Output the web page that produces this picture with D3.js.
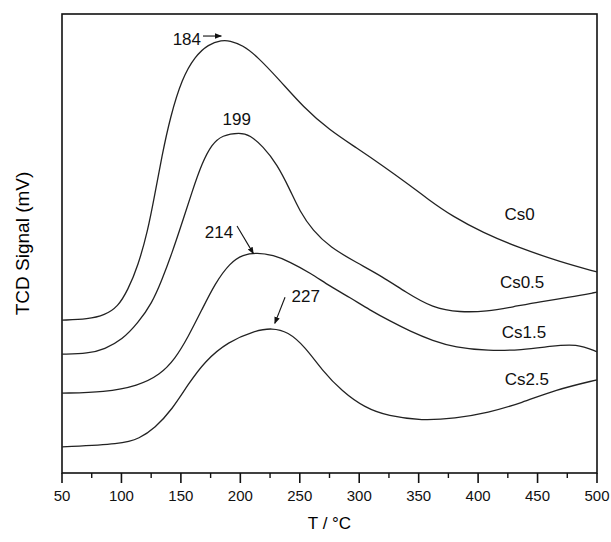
<!DOCTYPE html>
<html lang="en">
<head>
  <meta charset="UTF-8"/>
  <title>TCD Signal vs temperature</title>
  <script src="https://d3js.org/d3.v7.min.js"></script>
  <style>
    body { margin: 0; background: #fff; }
    svg { display: block; font-family: "Liberation Sans", Arial, sans-serif; }
    .curve { fill: none; stroke: #222; stroke-width: 1.3px; }
    .tick-label { font-size: 15px; fill: #111; text-anchor: middle; }
    .note { font-size: 17px; fill: #111; }
  </style>
</head>
<body>
<svg id="chart" width="611" height="542"></svg>
<script>
// temperature (°C) and signal (arbitrary, 0-100)
const tempCs0   = [50, 72, 86, 97, 105.5, 114, 122, 128, 134, 141, 151, 162, 173, 184.5, 191, 202, 214, 233, 253, 275, 298, 320, 343, 357, 379, 404, 433, 469, 500];
const signalCs0 = [33.3, 33.5, 34.4, 36.2, 39.9, 45.2, 52.6, 60.6, 69.0, 77.5, 86.0, 90.8, 93.4, 94.3, 94.2, 93.2, 90.8, 85.6, 79.7, 74.7, 70.8, 66.9, 62.6, 59.8, 55.8, 52.4, 49.2, 46.0, 43.8];

const tempCs05   = [50, 72, 86, 100.5, 114, 125.7, 134, 142.5, 151, 159.3, 167.7, 176, 184.6, 199.7, 208, 219, 230.8, 241.8, 250, 261, 275.4, 298, 320, 338.5, 362, 384.7, 407.5, 429.3, 452, 477, 500];
const signalCs05 = [25.9, 26.0, 27.0, 29.0, 32.7, 37.0, 42.0, 47.9, 54.5, 61.2, 67.5, 71.6, 73.6, 74.2, 73.6, 71.2, 67.3, 61.7, 57.0, 52.8, 49.2, 45.8, 42.7, 39.5, 35.9, 35.0, 35.2, 36.2, 37.3, 38.3, 39.4];

const tempCs15   = [50, 86, 114, 132.4, 145, 156, 167.7, 178.7, 191.3, 202.2, 214, 227.5, 241.8, 258.6, 275.4, 292.3, 309, 326, 342.7, 362, 380.5, 408.3, 437, 460.4, 483, 500];
const signalCs15 = [17.4, 17.6, 19.0, 21.4, 24.8, 29.6, 35.6, 41.3, 45.8, 47.6, 48.0, 47.5, 46.0, 43.6, 40.7, 38.2, 35.5, 33.1, 30.9, 28.8, 27.4, 26.6, 26.8, 27.6, 28.2, 26.4];

const tempCs25   = [50, 100.5, 115, 128.2, 142.5, 156, 170.3, 189.6, 212.3, 226.6, 240, 254.4, 268.7, 285.5, 304.8, 324.2, 352.8, 380.5, 408.3, 437, 464.6, 500];
const signalCs25 = [5.7, 6.3, 7.5, 9.8, 13.8, 19.3, 24.4, 28.6, 31.0, 31.6, 30.8, 27.5, 22.4, 17.8, 14.2, 12.4, 11.4, 11.9, 13.1, 15.3, 18.1, 20.3];

const seriesNames = ['Cs0', 'Cs0.5', 'Cs1.5', 'Cs2.5'];
const seriesTemps = [tempCs0, tempCs05, tempCs15, tempCs25];
const seriesSignals = [signalCs0, signalCs05, signalCs15, signalCs25];

const xTicks = [50, 100, 150, 200, 250, 300, 350, 400, 450, 500];

// peak notes: text anchor and arrow (data units)
const peakNotes = [
  { text: '184', at: [155, 93.2], arrow: [[168.6, 95.2], [184, 95.2]] },
  { text: '199', at: [197, 75.8], arrow: null },
  { text: '214', at: [182, 51.2], arrow: [[197.2, 53.8], [211, 47.8]] },
  { text: '227', at: [255, 37.3], arrow: [[237.6, 38.3], [229, 32.6]] }
];
const nameSpots = [[435, 55.1], [437, 40.3], [438.6, 29.4], [441, 19.2]];

const svg = d3.select('#chart');
const mLeft = 62, mRight = 597, mTop = 14, mBottom = 473;

const x = d3.scaleLinear().domain([50, 500]).range([mLeft, mRight]);
const y = d3.scaleLinear().domain([0, 100]).range([mBottom, mTop]);

// arrow head
svg.append('defs').append('marker')
  .attr('id', 'head').attr('viewBox', '0 0 10 10')
  .attr('refX', 9).attr('refY', 5)
  .attr('markerWidth', 7).attr('markerHeight', 7)
  .attr('markerUnits', 'userSpaceOnUse')
  .attr('orient', 'auto')
  .append('path').attr('d', 'M0,1 L10,5 L0,9 Z').attr('fill', '#111');

// frame
svg.append('rect')
  .attr('x', mLeft).attr('y', mTop)
  .attr('width', mRight - mLeft).attr('height', mBottom - mTop)
  .attr('fill', 'none').attr('stroke', '#111').attr('stroke-width', 1.6);

// bottom axis: majors every 50, minors in between
const xAxis = svg.append('g').attr('transform', `translate(0,${mBottom})`);
const minors = d3.range(75, 500, 50);
xAxis.selectAll('line.minor').data(minors).enter().append('line')
  .attr('x1', d => x(d)).attr('x2', d => x(d))
  .attr('y1', 0).attr('y2', 5)
  .attr('stroke', '#111').attr('stroke-width', 1.4);
xAxis.selectAll('line.major').data(xTicks).enter().append('line')
  .attr('x1', d => x(d)).attr('x2', d => x(d))
  .attr('y1', 0).attr('y2', 10)
  .attr('stroke', '#111').attr('stroke-width', 1.6);
xAxis.selectAll('text').data(xTicks).enter().append('text')
  .attr('class', 'tick-label')
  .attr('x', d => x(d)).attr('y', 28)
  .text(d => d);

// axis titles
svg.append('text')
  .attr('x', (mLeft + mRight) / 2).attr('y', 529)
  .attr('text-anchor', 'middle').attr('font-size', 17)
  .text('T / °C');
svg.append('text')
  .attr('transform', `translate(29,${(mTop + mBottom) / 2}) rotate(-90)`)
  .attr('text-anchor', 'middle').attr('font-size', 19)
  .text('TCD Signal (mV)');

// curves
const line = d3.line()
  .x(d => x(d[0])).y(d => y(d[1]))
  .curve(d3.curveBasis);

seriesNames.forEach((name, i) => {
  const pts = seriesTemps[i].map((t, j) => [t, seriesSignals[i][j]]);
  svg.append('path').datum(pts).attr('class', 'curve').attr('d', line);
  svg.append('text').attr('class', 'note')
    .attr('x', x(nameSpots[i][0])).attr('y', y(nameSpots[i][1]))
    .attr('text-anchor', 'middle')
    .text(name);
});

// peak temperatures
peakNotes.forEach(n => {
  svg.append('text').attr('class', 'note')
    .attr('x', x(n.at[0])).attr('y', y(n.at[1]))
    .attr('text-anchor', 'middle')
    .text(n.text);
  if (n.arrow) {
    svg.append('line')
      .attr('x1', x(n.arrow[0][0])).attr('y1', y(n.arrow[0][1]))
      .attr('x2', x(n.arrow[1][0])).attr('y2', y(n.arrow[1][1]))
      .attr('stroke', '#111').attr('stroke-width', 1.1)
      .attr('marker-end', 'url(#head)');
  }
});
</script>
</body>
</html>
